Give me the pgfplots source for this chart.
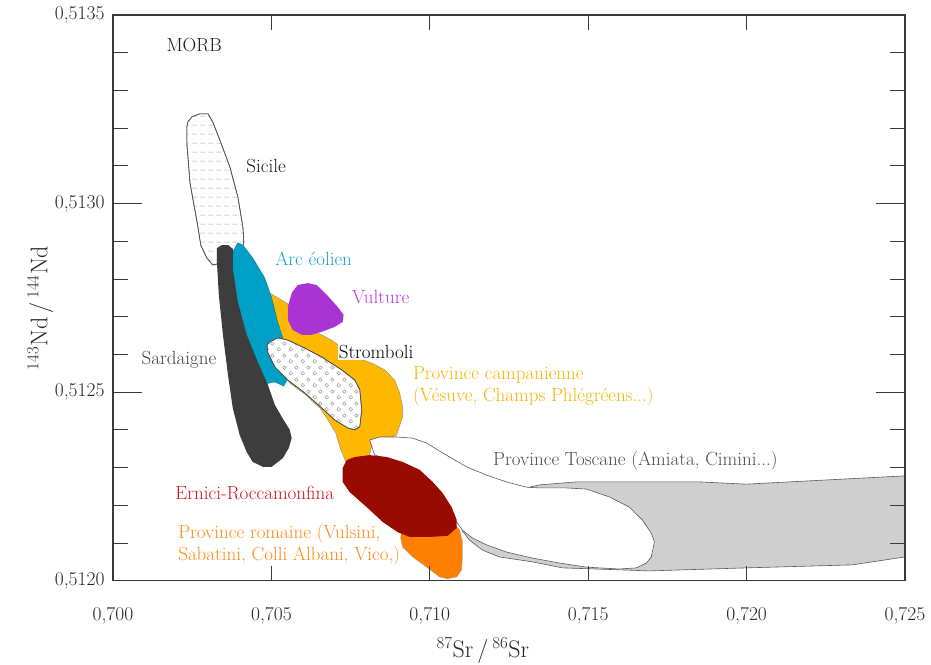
\documentclass[border=0pt]{standalone}
\usepackage{fontspec}
\usepackage{pgfplots}
\pgfplotsset{compat=1.18}
\usetikzlibrary{patterns.meta}

\definecolor{sard}{HTML}{3D3D3D}
\definecolor{arc}{HTML}{00A0C6}
\definecolor{vult}{HTML}{A934D3}
\definecolor{camp}{HTML}{FFB800}
\definecolor{ernici}{HTML}{990A00}
\definecolor{romaine}{HTML}{FF7F00}
\definecolor{tosgray}{HTML}{CFCFCF}
\definecolor{arctxt}{HTML}{1AA3CC}
\definecolor{vulttxt}{HTML}{B23FD8}
\definecolor{camptxt}{HTML}{F5B400}
\definecolor{ernitxt}{HTML}{D0141E}
\definecolor{romtxt}{HTML}{FF8A10}
\definecolor{axcol}{HTML}{3A3A3A}

\tikzdeclarepattern{name=hdash, type=uncolored,
  bounding box={(0pt,0pt) and (8pt,8.5pt)}, tile size={(8pt,8.5pt)},
  code={\draw[line width=0.5pt] (0.5pt,4pt) -- (5.5pt,4pt);}}
\tikzdeclarepattern{name=circs, type=uncolored,
  bounding box={(0pt,0pt) and (12pt,12pt)}, tile size={(12pt,12pt)},
  code={\draw[line width=0.5pt] (3pt,3pt) circle (1.9pt);
        \draw[line width=0.5pt] (9pt,9pt) circle (1.9pt);}}

\newcommand{\lab}{\fontsize{19}{22}\selectfont}
\newcommand{\tickfont}{\fontsize{19.5}{22}\selectfont}
\newcommand{\axfont}{\fontsize{24}{28}\selectfont}

\begin{document}
\begin{tikzpicture}
\useasboundingbox (0,0) rectangle (931pt,664pt);
\begin{axis}[
  at={(113pt,83.3pt)}, anchor=south west,
  scale only axis, width=792pt, height=565.7pt,
  xmin=0.700, xmax=0.725, ymin=0.5120, ymax=0.5135,
  axis on top,
  xtick={0.700,0.705,0.710,0.715,0.720,0.725},
  ytick={0.5120,0.5125,0.5130,0.5135},
  minor y tick num=4,
  tick align=inside,
  scaled x ticks=false, scaled y ticks=false,
  axis line style={line width=1.2pt, color=axcol},
  xtick style={line width=0.9pt, color=axcol, /pgfplots/major tick length=15pt},
  ytick style={line width=0.9pt, color=axcol, /pgfplots/major tick length=29pt, /pgfplots/minor tick length=15pt},
  xticklabel style={font=\tickfont, text=black!85, /pgf/number format/assume math mode=true, /pgf/number format/fixed, /pgf/number format/fixed zerofill, /pgf/number format/precision=3, /pgf/number format/use comma, yshift=-23pt},
  yticklabel style={font=\tickfont, text=black!85, /pgf/number format/assume math mode=true, /pgf/number format/fixed, /pgf/number format/fixed zerofill, /pgf/number format/precision=4, /pgf/number format/use comma, xshift=-5pt},
  xlabel={\textsuperscript{87}Sr\,/\,\textsuperscript{86}Sr},
  ylabel={\textsuperscript{143}Nd\,/\,\textsuperscript{144}Nd},
  every axis x label/.style={at={(axis description cs:0.467,-0.1225)}, anchor=center, font=\axfont, text=black!85},
  every axis y label/.style={at={(axis description cs:-0.092,0.482)}, anchor=center, rotate=90, font=\axfont, text=black!85},
]

% Sicile
\addplot[draw=black!70, line width=0.6pt, preaction={fill=white}, pattern=hdash, pattern color=black!35] coordinates {
(0.70236,0.513216) (0.70249,0.513230) (0.70274,0.513238) (0.70300,0.513238) (0.70315,0.513216)
(0.70337,0.513169) (0.70369,0.513097) (0.70394,0.513018) (0.70410,0.512938) (0.70413,0.512896)
(0.70400,0.512864) (0.70353,0.512845) (0.70315,0.512837) (0.70296,0.512856) (0.70277,0.512890)
(0.70268,0.512938) (0.70243,0.513055) (0.70233,0.513161) (0.70233,0.513203)} -- cycle;

% Province campanienne
\addplot[fill=camp, draw=black!45, line width=0.4pt] coordinates {
(0.70489,0.512766) (0.70558,0.512731) (0.70605,0.512697) (0.70646,0.512657) (0.70690,0.512638)
(0.70763,0.512593) (0.70817,0.512577) (0.70858,0.512559) (0.70889,0.512532) (0.70905,0.512498)
(0.70914,0.512461) (0.70914,0.512434) (0.70895,0.512386) (0.70858,0.512373) (0.70817,0.512360)
(0.70810,0.512333) (0.70735,0.512315) (0.70719,0.512347) (0.70703,0.512392) (0.70675,0.512431)
(0.70653,0.512458) (0.70605,0.512495) (0.70558,0.512524) (0.70533,0.512553) (0.70520,0.512612)
(0.70501,0.512691)} -- cycle;

% Arc eolien
\addplot[fill=arc, draw=arc!70!black, line width=0.3pt] coordinates {
(0.70394,0.512896) (0.70410,0.512890) (0.70441,0.512856) (0.70479,0.512803) (0.70501,0.512750)
(0.70520,0.512686) (0.70536,0.512644) (0.70558,0.512612) (0.70558,0.512545) (0.70539,0.512516)
(0.70511,0.512527) (0.70482,0.512522) (0.70451,0.512580) (0.70416,0.512652) (0.70391,0.512731)
(0.70378,0.512784) (0.70372,0.512845) (0.70381,0.512877)} -- cycle;

% Sardaigne
\addplot[fill=sard, draw=none] coordinates {
(0.70328,0.512882) (0.70344,0.512890) (0.70363,0.512890) (0.70378,0.512880) (0.70378,0.512829)
(0.70394,0.512739) (0.70422,0.512652) (0.70457,0.512580) (0.70489,0.512519) (0.70511,0.512466)
(0.70533,0.512434) (0.70558,0.512400) (0.70564,0.512378) (0.70555,0.512352) (0.70536,0.512325)
(0.70501,0.512302) (0.70473,0.512302) (0.70441,0.512315) (0.70422,0.512341) (0.70400,0.512386)
(0.70378,0.512458) (0.70363,0.512545) (0.70347,0.512652) (0.70334,0.512758) (0.70328,0.512845)} -- cycle;

% Vulture
\addplot[fill=vult, draw=none] coordinates {
(0.70552,0.512726) (0.70564,0.512763) (0.70583,0.512784) (0.70615,0.512789) (0.70643,0.512784)
(0.70675,0.512758) (0.70709,0.512726) (0.70728,0.512705) (0.70725,0.512686) (0.70700,0.512673)
(0.70659,0.512660) (0.70627,0.512652) (0.70596,0.512652) (0.70567,0.512665) (0.70552,0.512691)} -- cycle;

% Stromboli
\addplot[draw=black!70, line width=0.6pt, preaction={fill=white}, pattern=circs, pattern color=black!40] coordinates {
(0.70486,0.512625) (0.70495,0.512633) (0.70520,0.512644) (0.70552,0.512638) (0.70605,0.512617)
(0.70659,0.512593) (0.70722,0.512559) (0.70763,0.512532) (0.70779,0.512506) (0.70785,0.512453)
(0.70779,0.512408) (0.70763,0.512400) (0.70741,0.512405) (0.70700,0.512426) (0.70659,0.512458)
(0.70605,0.512498) (0.70552,0.512532) (0.70511,0.512567) (0.70489,0.512604)} -- cycle;

% Toscane (grey)
\addplot[fill=tosgray, draw=black!65, line width=0.6pt] coordinates {
(0.71103,0.512132) (0.71125,0.512140) (0.71315,0.512248) (0.71346,0.512254) (0.71463,0.512262)
(0.71851,0.512262) (0.71999,0.512256) (0.72500,0.512278) (0.72500,0.512063) (0.72333,0.512042)
(0.71999,0.512034) (0.71693,0.512026) (0.71526,0.512031) (0.71419,0.512034) (0.71324,0.512050)
(0.71220,0.512063) (0.71166,0.512081) (0.71125,0.512108)} -- cycle;

% Toscane (white)
\addplot[fill=white, draw=black!65, line width=0.6pt] coordinates {
(0.70810,0.512373) (0.70842,0.512381) (0.70895,0.512381) (0.70946,0.512378) (0.70990,0.512365)
(0.71040,0.512339) (0.71116,0.512302) (0.71179,0.512280) (0.71242,0.512262) (0.71305,0.512248)
(0.71346,0.512246) (0.71431,0.512246) (0.71494,0.512243) (0.71567,0.512222) (0.71630,0.512195)
(0.71671,0.512161) (0.71699,0.512126) (0.71709,0.512103) (0.71699,0.512063) (0.71684,0.512047)
(0.71652,0.512034) (0.71598,0.512031) (0.71535,0.512034) (0.71494,0.512036) (0.71409,0.512047)
(0.71324,0.512060) (0.71242,0.512076) (0.71179,0.512095) (0.71135,0.512113) (0.71103,0.512134)
(0.71047,0.512201) (0.70984,0.512272) (0.70905,0.512315) (0.70826,0.512333)} -- cycle;

% Province romaine
\addplot[fill=romaine, draw=black!40, line width=0.3pt] coordinates {
(0.70911,0.512134) (0.70999,0.512134) (0.71078,0.512150) (0.71094,0.512134) (0.71103,0.512103)
(0.71103,0.512063) (0.71100,0.512028) (0.71085,0.512010) (0.71056,0.512005) (0.71031,0.512010)
(0.70990,0.512036) (0.70946,0.512063) (0.70914,0.512089) (0.70908,0.512113)} -- cycle;

% Ernici-Roccamonfina
\addplot[fill=ernici, draw=none] coordinates {
(0.70738,0.512320) (0.70763,0.512328) (0.70810,0.512333) (0.70864,0.512328) (0.70914,0.512315)
(0.70968,0.512294) (0.71009,0.512262) (0.71040,0.512233) (0.71069,0.512195) (0.71085,0.512161)
(0.71085,0.512140) (0.71056,0.512119) (0.70999,0.512116) (0.70936,0.512116) (0.70898,0.512129)
(0.70851,0.512156) (0.70801,0.512195) (0.70747,0.512235) (0.70725,0.512262) (0.70725,0.512299)} -- cycle;

% Labels
\node[anchor=west, font=\lab, text=black!90] at (axis cs:0.70158,0.513421) {MORB};
\node[anchor=west, font=\lab, text=black!90] at (axis cs:0.70410,0.513100) {Sicile};
\node[anchor=west, font=\lab, text=arctxt] at (axis cs:0.70501,0.512853) {Arc éolien};
\node[anchor=west, font=\lab, text=vulttxt] at (axis cs:0.70744,0.512752) {Vulture};
\node[anchor=east, font=\lab, text=black!75] at (axis cs:0.70337,0.512585) {Sardaigne};
\node[anchor=west, font=\lab, text=black, fill=white, inner sep=1pt] at (axis cs:0.70709,0.512607) {Stromboli};
\node[anchor=west, font=\lab, text=camptxt, align=left] at (axis cs:0.70936,0.512514) {Province campanienne\\(Vésuve, Champs Phlégréens...)};
\node[anchor=west, font=\lab, text=black!70] at (axis cs:0.71189,0.512317) {Province Toscane (Amiata, Cimini...)};
\node[anchor=west, font=\lab, text=ernitxt] at (axis cs:0.70186,0.512233) {Ernici-Roccamonfina};
\node[anchor=west, font=\lab, text=romtxt, align=left] at (axis cs:0.70195,0.512095) {Province romaine (Vulsini,\\Sabatini, Colli Albani, Vico,)};
\end{axis}
\end{tikzpicture}
\end{document}
